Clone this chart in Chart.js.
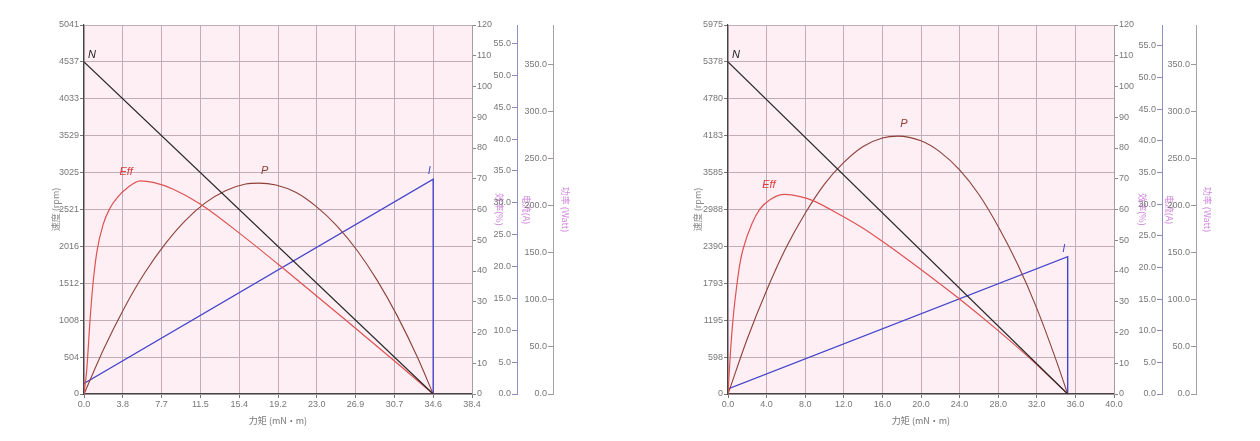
<!DOCTYPE html>
<html>
<head>
<meta charset="utf-8">
<script src="https://cdn.jsdelivr.net/npm/chart.js@4.4.1/dist/chart.umd.min.js"></script>
<style>
  html, body { margin: 0; padding: 0; background: #fff; }
  #wrap { position: relative; width: 1260px; height: 441px; }
  canvas { position: absolute; top: 0; }
  #left-canvas { left: 0; }
  #right-canvas { left: 630px; }
</style>
</head>
<body>
<div id="wrap">
  <canvas id="left-canvas" width="630" height="441"></canvas>
  <canvas id="right-canvas" width="630" height="441"></canvas>
</div>
<script>
// ---- left motor ----
const leftTorqueMax = 38.4;
const leftSpeedMax = 5041;
const leftCurrentMax = 57.9;
const leftPowerMax = 392;

const leftSpeedTorque = [0, 34.56];
const leftSpeed = [4537, 0];

const leftEffTorque = [0, 0.27, 0.6, 0.86, 1.26, 1.88, 2.58, 3.27, 4.27, 5.56, 6.85, 8.83, 11.5, 15.5, 19.44, 26.1, 31.35, 34.56];
const leftEff = [0, 7.8, 24.1, 34.8, 46.0, 55.0, 60.5, 63.8, 67.0, 69.3, 68.8, 66.6, 61.8, 52.0, 41.6, 23.5, 9.0, 0];

const leftPowerTorque = [0, 2, 4, 6, 8, 10, 12, 14, 16, 17.28, 19, 21, 23, 25, 27, 29, 31, 33, 34.56];
const leftPower = [0, 48.9, 91.7, 128.5, 159, 184, 203, 216, 223, 224, 222, 214, 199, 179, 153, 121, 83, 39, 0];

const leftCurrentTorque = [0, 34.56, 34.56];
const leftCurrent = [1.65, 33.7, 0];

// ---- right motor ----
const rightTorqueMax = 40;
const rightSpeedMax = 5975;
const rightCurrentMax = 58.3;
const rightPowerMax = 392;

const rightSpeedTorque = [0, 35.2];
const rightSpeed = [5378, 0];

const rightEffTorque = [0, 0.21, 0.52, 0.9, 1.24, 1.55, 2.5, 3.32, 4.35, 5.9, 7.46, 8.8, 11.6, 14.0, 16.1, 20.2, 23.7, 27.5, 31.0, 35.2];
const rightEff = [0, 11.4, 24.3, 35.0, 42.5, 47.0, 55.5, 60.2, 63.2, 64.9, 64.2, 62.9, 58.3, 53.9, 49.4, 40.0, 31.6, 21.9, 12.4, 0];

const rightPowerTorque = [0, 2, 4, 6, 8, 10, 12, 14, 16, 17.6, 20, 22, 24, 26, 28, 30, 32, 34, 35.2];
const rightPower = [0, 58.7, 110, 155, 192, 223, 246, 263, 272, 274, 269, 257, 238, 212, 178, 138, 91, 36, 0];

const rightCurrentTorque = [0, 35.2, 35.2];
const rightCurrent = [0.8, 21.7, 0];

const tickFont = { family: '"Liberation Sans", Arial, sans-serif', size: 9 };
const titleFont = { family: '"Noto Sans CJK SC", sans-serif', size: 9 };
const gridColor = '#c2acb8';
const titlePink = '#cf86dc';

function pts(xs, ys) {
  return xs.map((x, i) => ({ x: x, y: ys[i] }));
}

function peakIndex(arr) {
  return arr.indexOf(Math.max(...arr));
}

const plotBackground = {
  id: 'plotBackground',
  beforeDraw(chart) {
    const a = chart.chartArea;
    chart.ctx.save();
    chart.ctx.fillStyle = '#fdeff4';
    chart.ctx.fillRect(a.left, a.top, a.right - a.left, a.bottom - a.top);
    chart.ctx.restore();
  }
};

// curve names drawn next to a chosen point of each dataset
const curveLabels = {
  id: 'curveLabels',
  afterDatasetsDraw(chart) {
    const ctx = chart.ctx;
    ctx.save();
    ctx.font = 'italic 11px "Liberation Sans", Arial, sans-serif';
    ctx.textAlign = 'center';
    ctx.textBaseline = 'middle';
    chart.data.datasets.forEach((ds, i) => {
      const lab = ds.curveLabel;
      const pt = chart.getDatasetMeta(i).data[lab.index];
      ctx.fillStyle = lab.color;
      ctx.fillText(ds.label, pt.x + lab.dx, pt.y + lab.dy);
    });
    ctx.restore();
  }
};

function onlySteps(step, max) {
  return s => { s.ticks = s.ticks.filter(t => Math.abs(t.value / step - Math.round(t.value / step)) < 1e-6 && t.value <= max); };
}

function buildChart(canvasId, d) {
  new Chart(document.getElementById(canvasId), {
    type: 'line',
    data: {
      datasets: [
        { label: 'N', data: pts(d.nT, d.n), yAxisID: 'y', borderColor: '#262626', borderWidth: 1.2, tension: 0,
          curveLabel: { index: 0, dx: 8, dy: -7, color: '#222' } },
        { label: 'Eff', data: pts(d.effT, d.eff), yAxisID: 'yEff', borderColor: '#e05252', borderWidth: 1.2,
          cubicInterpolationMode: 'monotone',
          curveLabel: { index: peakIndex(d.eff), dx: d.effDx, dy: -9, color: '#e03a3a' } },
        { label: 'P', data: pts(d.pT, d.p), yAxisID: 'yP', borderColor: '#8e4038', borderWidth: 1.1,
          cubicInterpolationMode: 'monotone',
          curveLabel: { index: peakIndex(d.p), dx: 6, dy: -12, color: '#8e4038' } },
        { label: 'I', data: pts(d.iT, d.i), yAxisID: 'yI', borderColor: '#4646cc', borderWidth: 1.4, tension: 0,
          curveLabel: { index: 1, dx: -4, dy: -8, color: '#4646cc' } }
      ]
    },
    options: {
      responsive: false,
      animation: false,
      layout: { padding: { left: d.padLeft, right: d.padRight, top: 25, bottom: 7 } },
      plugins: { legend: { display: false }, tooltip: { enabled: false } },
      elements: { point: { radius: 0 } },
      scales: {
        x: {
          type: 'linear', min: 0, max: d.tMax,
          afterFit: s => { s.height = 40; },
          grid: { color: gridColor, tickColor: '#777', tickLength: 4 },
          border: { color: '#444', width: 1.2 },
          ticks: { stepSize: d.tStep, autoSkip: false, maxRotation: 0, padding: 1, color: '#777', font: tickFont,
                   callback: v => v.toFixed(1) },
          title: { display: true, text: '力矩 (mN·m)', color: '#777', font: titleFont, padding: { top: 0, bottom: 8 } }
        },
        y: {
          position: 'left', min: 0, max: d.nMax,
          afterFit: s => { s.width = d.yWidth; },
          grid: { color: gridColor, tickColor: '#777', tickLength: 4 },
          border: { color: '#444', width: 1.2 },
          ticks: { stepSize: d.nMax / 10, padding: 1, color: '#777', font: tickFont, callback: v => Math.round(v) },
          title: { display: true, text: '速度 (rpm)', color: '#888', font: titleFont, padding: { top: d.yTitlePad, bottom: 0 } }
        },
        yEff: {
          position: 'right', min: 0, max: 120,
          afterFit: s => { s.width = d.w1; },
          grid: { drawOnChartArea: false, tickColor: '#888', tickLength: 4 },
          border: { color: '#a89ca4' },
          ticks: { stepSize: 10, padding: 1, color: '#777', font: tickFont },
          title: { display: true, text: '效率(%)', color: titlePink, font: titleFont, padding: { top: d.t1, bottom: 0 } }
        },
        yI: {
          position: 'right', min: 0, max: d.iMax,
          afterFit: s => { s.width = d.w2; },
          afterBuildTicks: onlySteps(5, 55),
          grid: { drawOnChartArea: false, tickColor: '#8a8ab8', tickLength: -5 },
          border: { color: '#8e8ec0' },
          ticks: { stepSize: 5, mirror: true, padding: -6, color: '#777', font: tickFont, callback: v => v.toFixed(1) },
          title: { display: true, text: '电流(A)', color: titlePink, font: titleFont, padding: { top: d.t2, bottom: 0 } }
        },
        yP: {
          position: 'right', min: 0, max: d.pMax,
          afterFit: s => { s.width = d.w3; },
          afterBuildTicks: onlySteps(50, 350),
          grid: { drawOnChartArea: false, tickColor: '#999', tickLength: -5 },
          border: { color: '#a8a0a8' },
          ticks: { stepSize: 50, mirror: true, padding: -6, color: '#777', font: tickFont, callback: v => v.toFixed(1) },
          title: { display: true, text: '功率 (Watt)', color: titlePink, font: titleFont, padding: { top: d.t3, bottom: 0 } }
        }
      }
    },
    plugins: [plotBackground, curveLabels]
  });
}

buildChart('left-canvas', {
  tMax: leftTorqueMax, tStep: leftTorqueMax / 10, nMax: leftSpeedMax, iMax: leftCurrentMax, pMax: leftPowerMax,
  nT: leftSpeedTorque, n: leftSpeed, effT: leftEffTorque, eff: leftEff, pT: leftPowerTorque, p: leftPower,
  iT: leftCurrentTorque, i: leftCurrent,
  padLeft: 40, padRight: 55, yWidth: 44, w1: 45, w2: 36, w3: 22,
  yTitlePad: 10, t1: 12, t2: 21, t3: 4, effDx: -14
});

buildChart('right-canvas', {
  tMax: rightTorqueMax, tStep: 4, nMax: rightSpeedMax, iMax: rightCurrentMax, pMax: rightPowerMax,
  nT: rightSpeedTorque, n: rightSpeed, effT: rightEffTorque, eff: rightEff, pT: rightPowerTorque, p: rightPower,
  iT: rightCurrentTorque, i: rightCurrent,
  padLeft: 50, padRight: 44, yWidth: 48, w1: 48, w2: 34, w3: 20,
  yTitlePad: 12, t1: 14, t2: 21, t3: 3, effDx: -16
});
</script>
</body>
</html>
